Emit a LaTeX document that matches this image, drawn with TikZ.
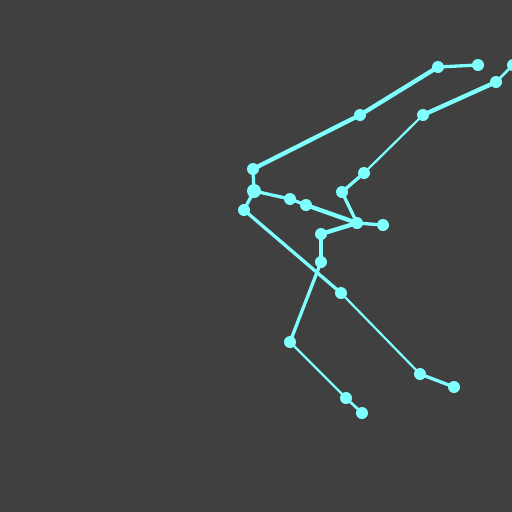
\documentclass[tikz,border=0pt]{standalone}
\definecolor{bg}{HTML}{404040}
\definecolor{bone}{HTML}{80FFFF}
\tikzset{
  joint/.style={circle,fill=bone,inner sep=0pt,minimum size=12pt},
  bigjoint/.style={circle,fill=bone,inner sep=0pt,minimum size=14pt},
  thk/.style={draw=bone,line width=4.3pt},
  med/.style={draw=bone,line width=3.3pt},
  thn/.style={draw=bone,line width=2.2pt}
}
\begin{document}
\begin{tikzpicture}[x=1pt,y=-1pt]
\fill[bg] (0,0) rectangle (512,512);
\useasboundingbox (0,0) rectangle (512,512);
\coordinate (A) at (478,65);
\coordinate (B) at (438,67);
\coordinate (C) at (360,115);
\coordinate (D) at (253,169);
\coordinate (E) at (254,191);
\coordinate (F) at (244,210);
\coordinate (G) at (290,199);
\coordinate (H) at (306,205);
\coordinate (I) at (357,223);
\coordinate (J) at (383,225);
\coordinate (K) at (342,192);
\coordinate (L) at (364,173);
\coordinate (M) at (423,115);
\coordinate (N) at (496,82);
\coordinate (O) at (513,65);
\coordinate (P) at (321,234);
\coordinate (Q) at (321,262);
\coordinate (R) at (290,342);
\coordinate (S) at (346,398);
\coordinate (T) at (362,413);
\coordinate (U) at (341,293);
\coordinate (V) at (420,374);
\coordinate (W) at (454,387);
\draw[med] (A) -- (B);
\draw[thk] (B) -- (C);
\draw[thk] (C) -- (D);
\draw[med] (D) -- (E);
\draw[med] (E) -- (F);
\draw[med] (E) -- (G);
\draw[med] (G) -- (H);
\draw[thk] (H) -- (I);
\draw[med] (I) -- (J);
\draw[med] (I) -- (K);
\draw[med] (K) -- (L);
\draw[thn] (L) -- (M);
\draw[thk] (M) -- (N);
\draw[line width=2.7pt,draw=bone] (N) -- (O);
\draw[thk] (I) -- (P);
\draw[med] (P) -- (Q);
\draw[med] (Q) -- (R);
\draw[thn] (R) -- (S);
\draw[line width=2.7pt,draw=bone] (S) -- (T);
\draw[med] (F) -- (U);
\draw[thn] (U) -- (V);
\draw[med] (V) -- (W);
\foreach \p in {A,B,C,D,F,G,H,I,J,K,L,M,N,O,P,Q,R,S,T,U,V,W}
  \node[joint] (n\p) at (\p) {};
\node[bigjoint] (nE) at (E) {};
\end{tikzpicture}
\end{document}
